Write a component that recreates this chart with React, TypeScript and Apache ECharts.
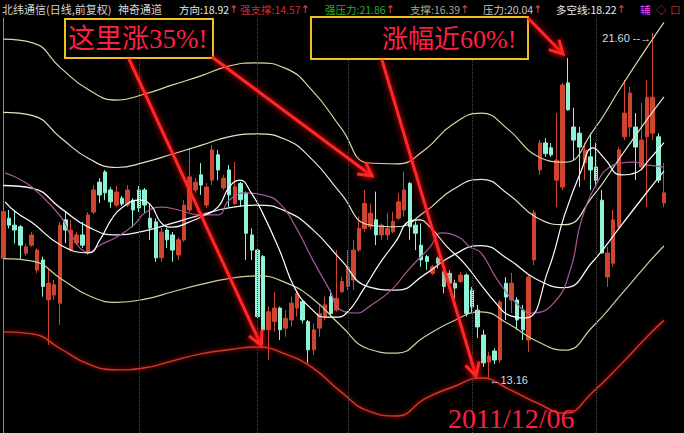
import React, { useEffect, useRef } from "react";
import * as echarts from "echarts";

// [open, close, low, high]
const candles: number[][] = [
  [16.09, 17.23, 16.05, 17.27], [17.07, 16.90, 16.82, 17.27], [16.90, 16.78, 16.45, 17.27], [16.86, 16.41, 16.05, 16.90],
  [16.21, 16.37, 16.15, 16.45], [16.41, 16.66, 16.37, 16.74], [15.80, 16.29, 15.72, 16.33], [16.05, 15.40, 15.15, 16.13],
  [15.07, 15.48, 13.97, 15.85], [15.19, 15.44, 15.07, 15.56], [14.99, 16.90, 14.46, 16.98], [17.03, 16.78, 16.46, 17.22],
  [16.29, 16.78, 16.24, 17.03], [16.46, 16.66, 16.41, 16.73], [16.66, 16.41, 16.34, 16.98], [16.22, 17.15, 16.17, 17.22],
  [17.22, 17.76, 17.17, 17.88], [17.95, 17.64, 17.44, 18.05], [18.20, 17.69, 17.51, 18.25], [17.76, 17.47, 17.32, 17.83],
  [17.39, 17.71, 17.34, 17.86], [17.56, 17.42, 17.37, 17.61], [17.39, 17.76, 17.34, 17.88], [17.51, 17.27, 16.85, 17.56],
  [17.76, 17.32, 17.22, 17.86], [17.76, 17.39, 17.20, 17.81], [17.07, 16.83, 16.54, 17.44], [16.98, 16.10, 16.00, 17.07],
  [16.10, 16.73, 16.00, 16.83], [16.78, 16.54, 16.34, 16.83], [16.66, 16.29, 16.00, 16.73], [16.17, 16.54, 16.05, 16.61],
  [16.54, 17.39, 16.49, 17.51], [17.27, 18.08, 17.22, 18.79], [17.76, 17.95, 17.69, 18.05], [18.13, 17.88, 17.64, 18.42],
  [17.39, 17.83, 17.32, 17.93], [18.00, 18.74, 17.88, 18.86], [18.62, 18.25, 18.00, 18.74], [17.81, 18.05, 17.76, 18.13],
  [18.25, 17.64, 17.34, 18.37], [17.43, 17.84, 17.39, 18.45], [17.92, 17.52, 17.35, 17.96], [17.68, 16.70, 16.05, 17.72],
  [16.66, 16.29, 16.05, 16.82], [16.29, 14.66, 14.62, 16.33], [16.13, 14.34, 13.97, 16.17], [14.34, 14.78, 13.60, 14.91],
  [14.54, 14.87, 14.30, 15.27], [14.87, 14.34, 14.09, 14.91], [14.38, 14.62, 14.17, 14.82], [14.58, 14.99, 14.42, 15.15],
  [14.87, 15.23, 14.66, 15.31], [15.03, 14.58, 14.50, 15.07], [14.54, 13.85, 13.52, 14.58], [13.85, 14.34, 13.72, 14.50],
  [14.38, 14.74, 14.17, 14.95], [14.66, 14.95, 14.58, 15.15], [15.15, 14.74, 14.66, 15.31], [14.82, 15.11, 14.78, 16.29],
  [15.27, 15.52, 15.23, 15.64], [15.40, 15.88, 15.31, 16.29], [15.56, 16.29, 15.31, 16.54], [16.29, 16.82, 16.25, 17.11],
  [16.82, 17.43, 16.74, 17.76], [16.86, 17.19, 16.78, 17.43], [17.03, 16.66, 16.41, 17.72], [16.66, 16.90, 16.54, 16.94],
  [16.66, 16.82, 16.54, 17.19], [16.74, 16.99, 16.70, 17.23], [17.07, 17.47, 17.03, 17.68], [17.27, 17.76, 17.11, 18.21],
  [17.92, 16.86, 16.54, 17.96], [16.90, 16.70, 16.29, 16.99], [16.41, 16.05, 15.88, 16.94], [16.13, 16.01, 15.80, 16.17],
  [15.72, 15.88, 15.68, 15.93], [16.09, 15.97, 15.84, 16.13], [15.76, 15.40, 15.23, 16.05], [15.72, 15.48, 15.40, 15.80],
  [15.48, 15.36, 15.11, 15.56], [15.52, 15.68, 15.48, 15.76], [15.68, 14.74, 14.66, 15.72], [15.31, 14.90, 14.77, 15.39],
  [14.82, 14.41, 14.14, 14.95], [14.21, 13.53, 13.43, 14.34], [13.55, 13.70, 13.16, 13.80], [13.82, 13.60, 13.50, 13.89],
  [13.60, 15.02, 13.53, 15.07], [15.48, 15.14, 14.58, 15.63], [15.07, 15.48, 14.75, 15.73], [15.07, 14.58, 14.34, 15.14],
  [14.82, 14.34, 14.09, 14.95], [14.09, 15.63, 13.80, 15.68], [16.05, 17.20, 15.92, 17.27], [18.25, 18.91, 18.13, 18.98],
  [18.91, 18.65, 18.57, 19.03], [18.79, 18.62, 18.57, 18.91], [18.00, 18.49, 17.34, 19.64], [17.83, 20.33, 17.76, 20.38],
  [20.38, 19.72, 19.70, 20.99], [19.30, 18.98, 18.49, 19.77], [19.15, 18.81, 17.83, 19.30], [18.42, 18.74, 18.00, 18.91],
  [18.57, 18.25, 17.76, 19.15], [18.32, 18.00, 17.83, 18.91], [17.51, 16.22, 16.20, 17.76], [15.63, 16.22, 15.39, 16.37],
  [15.97, 17.03, 15.88, 17.27], [16.85, 18.74, 16.78, 18.81], [19.06, 19.64, 18.98, 20.45], [19.30, 20.13, 19.06, 20.28],
  [19.30, 18.81, 18.00, 19.64], [18.32, 18.98, 18.25, 19.89], [19.06, 20.03, 17.34, 20.45], [19.15, 20.03, 18.98, 21.60],
  [19.06, 18.00, 17.93, 19.15], [17.44, 17.69, 17.34, 18.42],
];

// channel lines (sampled positions in candle-index units)
const bandIdx = [0, 5.2, 10.2, 15.1, 20.1, 25.1, 30, 35, 39.9, 44.9, 49.9, 54.8, 59.8, 64.7, 69.7, 74.6, 79.6, 84.6, 89.5, 94.5, 99.4, 104.4, 109.4, 114.3, 117];
const strongPressure = [21.45, 21.36, 20.74, 20.21, 19.96, 20.11, 20.33, 20.55, 20.79, 20.87, 20.74, 20.18, 19.28, 18.42, 18.40, 18.74, 19.37, 19.64, 19.23, 18.59, 18.44, 19.20, 20.28, 21.31, 21.86];
const pressure = [19.66, 19.58, 19.03, 18.53, 18.31, 18.44, 18.64, 18.85, 19.06, 19.13, 19.00, 18.49, 17.67, 16.91, 16.86, 17.22, 17.77, 18.02, 17.65, 17.08, 16.91, 17.61, 18.59, 19.54, 20.04];
const longShort = [17.87, 17.80, 17.31, 16.85, 16.66, 16.76, 16.95, 17.15, 17.32, 17.39, 17.25, 16.79, 16.05, 15.39, 15.31, 15.69, 16.16, 16.40, 16.06, 15.57, 15.37, 16.01, 16.89, 17.76, 18.22];
const support = [16.08, 16.02, 15.59, 15.18, 15.01, 15.09, 15.27, 15.45, 15.59, 15.66, 15.50, 15.10, 14.44, 13.87, 13.77, 14.17, 14.55, 14.78, 14.48, 14.06, 13.84, 14.42, 15.20, 15.99, 16.39];
const strongSupport = [14.29, 14.24, 13.87, 13.50, 13.36, 13.41, 13.58, 13.75, 13.85, 13.92, 13.75, 13.41, 12.82, 12.35, 12.23, 12.65, 12.94, 13.16, 12.89, 12.55, 12.30, 12.82, 13.50, 14.21, 14.57];

const dirIdx = [0.3, 2.2, 5.2, 10.2, 15.1, 17.1, 19.1, 21.1, 24.1, 26.1, 28, 30, 33, 35, 38, 40, 41.9, 43.9, 45.9, 48.9, 51.8, 54.8, 56.8, 58.8, 60.8, 63.7, 66.7, 69.7, 71.7, 73.6, 75.6, 78.6, 81.6, 84.6, 87.5, 89.5, 92.5, 96.5, 99.4, 102.4, 104.4, 106.4, 109.4, 112.3, 114.3, 117];
const direction = [17.47, 17.22, 16.95, 16.41, 16.22, 16.54, 17.03, 17.34, 17.51, 17.39, 16.95, 16.85, 16.98, 17.10, 17.34, 17.83, 18.00, 17.69, 17.20, 16.29, 15.31, 14.82, 14.65, 14.65, 14.75, 15.31, 15.97, 16.54, 16.98, 17.03, 16.85, 16.37, 15.97, 15.44, 14.95, 14.70, 14.63, 15.80, 17.15, 18.25, 18.79, 18.54, 18.13, 18.20, 18.49, 18.92];

const maIdx = [0.3, 3.2, 6.2, 10.2, 12.2, 15.1, 17.1, 20.1, 23.1, 25.1, 28, 31, 35, 38, 40, 42.9, 45.9, 48.9, 51.8, 54.8, 57.8, 59.8, 62.7, 64.7, 68.7, 71.7, 75.6, 77.6, 80.6, 82.6, 84.6, 87.5, 91.5, 93.5, 97.5, 100.4, 102.4, 105.4, 107.4, 109.4, 111.3, 114.3, 117];
const maLine = [18.18, 18.00, 17.69, 17.10, 16.61, 16.24, 16.41, 16.61, 16.90, 17.20, 17.34, 17.27, 17.15, 17.15, 17.51, 17.69, 17.64, 17.44, 16.85, 16.05, 15.31, 14.82, 14.75, 14.90, 15.31, 15.80, 16.37, 16.71, 16.61, 16.37, 16.22, 15.56, 14.90, 14.75, 15.00, 15.80, 17.03, 18.00, 18.32, 18.42, 18.44, 18.37, 18.32];

const monthLines = [24, 45, 61, 83, 105];
const lowPoint = [86, 13.16];
const highPoint = [115, 21.6];
const last = (a: number[]) => a[a.length - 1].toFixed(2);

const N = candles.length;
const UP = "#d0432f";
const DOWN = "#8ef3d6";

function lineSeries(name: string, xs: number[], ys: number[], color: string, width: number, extra: any = {}) {
  return {
    name,
    type: "line",
    xAxisIndex: 1,
    yAxisIndex: 0,
    data: xs.map((x, k) => [x, ys[k]]),
    showSymbol: false,
    symbol: "none",
    smooth: 0.5,
    silent: true,
    lineStyle: { color, width, ...extra },
  };
}

function arrow(x1: number, y1: number, x2: number, y2: number) {
  const a = Math.atan2(y2 - y1, x2 - x1);
  const L = 15, s = 0.5;
  const p1 = [x2 - L * Math.cos(a - s), y2 - L * Math.sin(a - s)];
  const p2 = [x2 - L * Math.cos(a + s), y2 - L * Math.sin(a + s)];
  const st = { stroke: "#ff2626", lineWidth: 3, shadowBlur: 6, shadowColor: "#ff0000", fill: "none" };
  return [
    { type: "line", z: 100, silent: true, shape: { x1, y1, x2, y2 }, style: st },
    { type: "polyline", z: 100, silent: true, shape: { points: [p1, [x2, y2], p2] }, style: st },
  ];
}

const HFONT = '10.5px "Noto Sans CJK SC", "DejaVu Sans"';

function htext(text: string, x: number, color: string, font = HFONT) {
  return {
    type: "text", z: 100, silent: true, x, y: 9,
    style: { text, fill: color, font, textVerticalAlign: "middle", verticalAlign: "middle" },
  };
}

// label + value followed by a red up arrow, as one rich text
function hgroup(label: string, x: number, color: string) {
  return {
    type: "text", z: 100, silent: true, x, y: 9,
    style: {
      text: `{v|${label}}{a|↑}`,
      font: HFONT,
      textVerticalAlign: "middle", verticalAlign: "middle",
      rich: {
        v: { fill: color, font: HFONT },
        a: { fill: "#e04a4a", font: '10.5px "DejaVu Sans"' },
      },
    },
  };
}

const glowText = (text: string, x: number, y: number, size: number) => ({
  type: "text", z: 101, silent: true, x, y,
  style: {
    text, fill: "#ff1f44", font: `${size}px "Liberation Serif", "Noto Sans CJK SC"`,
    textVerticalAlign: "middle", verticalAlign: "middle",
    shadowBlur: 6, shadowColor: "#ff0000",
  },
});

export default function App() {
  const ref = useRef<HTMLDivElement>(null);
  useEffect(() => {
    const chart = echarts.init(ref.current!, null, { renderer: "svg" });
    const option: any = {
      animation: false,
      backgroundColor: "#000000",
      grid: { left: 0.5, right: 17.2, top: 18, bottom: 0 },
      xAxis: [
        { type: "category", data: candles.map((_, i) => i), boundaryGap: true, show: false },
        { type: "value", min: -0.5, max: N - 0.5, show: false },
      ],
      yAxis: {
        type: "value", min: 11.815, max: 21.967,
        axisLine: { show: true, lineStyle: { color: "#8a8a8a", width: 1 } },
        axisLabel: { show: false }, axisTick: { show: false }, splitLine: { show: false },
      },
      series: [
        {
          type: "candlestick",
          data: candles,
          barWidth: 4,
          itemStyle: { color: UP, color0: DOWN, borderColor: UP, borderColor0: DOWN, borderWidth: 1 },
          markLine: {
            silent: true, symbol: "none", label: { show: false },
            lineStyle: { type: "dotted", color: "#4c4c4c", width: 1 },
            data: monthLines.map((x) => ({ xAxis: x })),
          },
          markPoint: {
            silent: true, symbol: "circle", symbolSize: 1,
            itemStyle: { color: "rgba(0,0,0,0)" },
            data: [
              {
                coord: lowPoint,
                label: { show: true, position: "right", distance: 0, offset: [0, 2], formatter: "←" + lowPoint[1].toFixed(2), color: "#dcdcdc", fontSize: 11, fontFamily: "Liberation Sans, DejaVu Sans" },
              },
              {
                coord: highPoint,
                label: { show: true, position: "left", distance: 1, offset: [0, 5], formatter: highPoint[1].toFixed(2) + " --→", color: "#dcdcdc", fontSize: 11, fontFamily: "Liberation Sans, DejaVu Sans" },
              },
            ],
          },
        },
        lineSeries("强压力", bandIdx, strongPressure, "#d8d8a0", 1.2),
        lineSeries("压力", bandIdx, pressure, "#e4e4c4", 1.2),
        lineSeries("多空线", bandIdx, longShort, "#f4f4f4", 1.3),
        lineSeries("支撑", bandIdx, support, "#d0d0a0", 1.2),
        lineSeries("强支撑", bandIdx, strongSupport, "#cc3a28", 1.4, { shadowBlur: 4, shadowColor: "#ff0000" }),
        lineSeries("均线", maIdx, maLine, "#a8589a", 1.2),
        lineSeries("方向", dirIdx, direction, "#ffffff", 1.2),
      ],
      graphic: [
        htext("北纬通信(日线,前复权)", 2, "#d4d4d4", '11px "Noto Sans CJK SC", "DejaVu Sans"'),
        htext("神奇通道", 118, "#d4d4d4", '11px "Noto Sans CJK SC", "DejaVu Sans"'),
        hgroup("方向:" + last(direction), 179, "#e8e8e8"),
        hgroup("强支撑:" + last(strongSupport), 240, "#d42a2a"),
        hgroup("强压力:" + last(strongPressure), 325, "#2ab02a"),
        hgroup("支撑:" + last(support), 410, "#a8a888"),
        hgroup("压力:" + last(pressure), 483, "#c8c8c8"),
        hgroup("多空线:" + last(longShort), 556, "#e8e8e8"),
        htext("辅", 640, "#ff40ff"),
        htext("◇", 656, "#b04040"),
        htext("口", 670, "#b03030"),
        { type: "rect", z: 99, silent: true, shape: { x: 65, y: 19, width: 148, height: 39 }, style: { fill: "#000", stroke: "#f0c020", lineWidth: 2 } },
        glowText("这里涨35%!", 68, 39, 27),
        { type: "rect", z: 99, silent: true, shape: { x: 311, y: 17, width: 217, height: 42 }, style: { fill: "#000", stroke: "#f0c020", lineWidth: 2 } },
        glowText("涨幅近60%!", 382, 39, 26),
        glowText("2011/12/06", 448, 418, 28),
        ...arrow(129, 59, 261, 345),
        ...arrow(212, 57, 372, 176),
        ...arrow(382, 60, 476, 376),
        ...arrow(528, 18, 563, 54),
      ],
    };
    chart.setOption(option);
    return () => chart.dispose();
  }, []);
  return <div ref={ref} style={{ position: "fixed", left: 0, top: 0, width: 684, height: 433 }} />;
}
